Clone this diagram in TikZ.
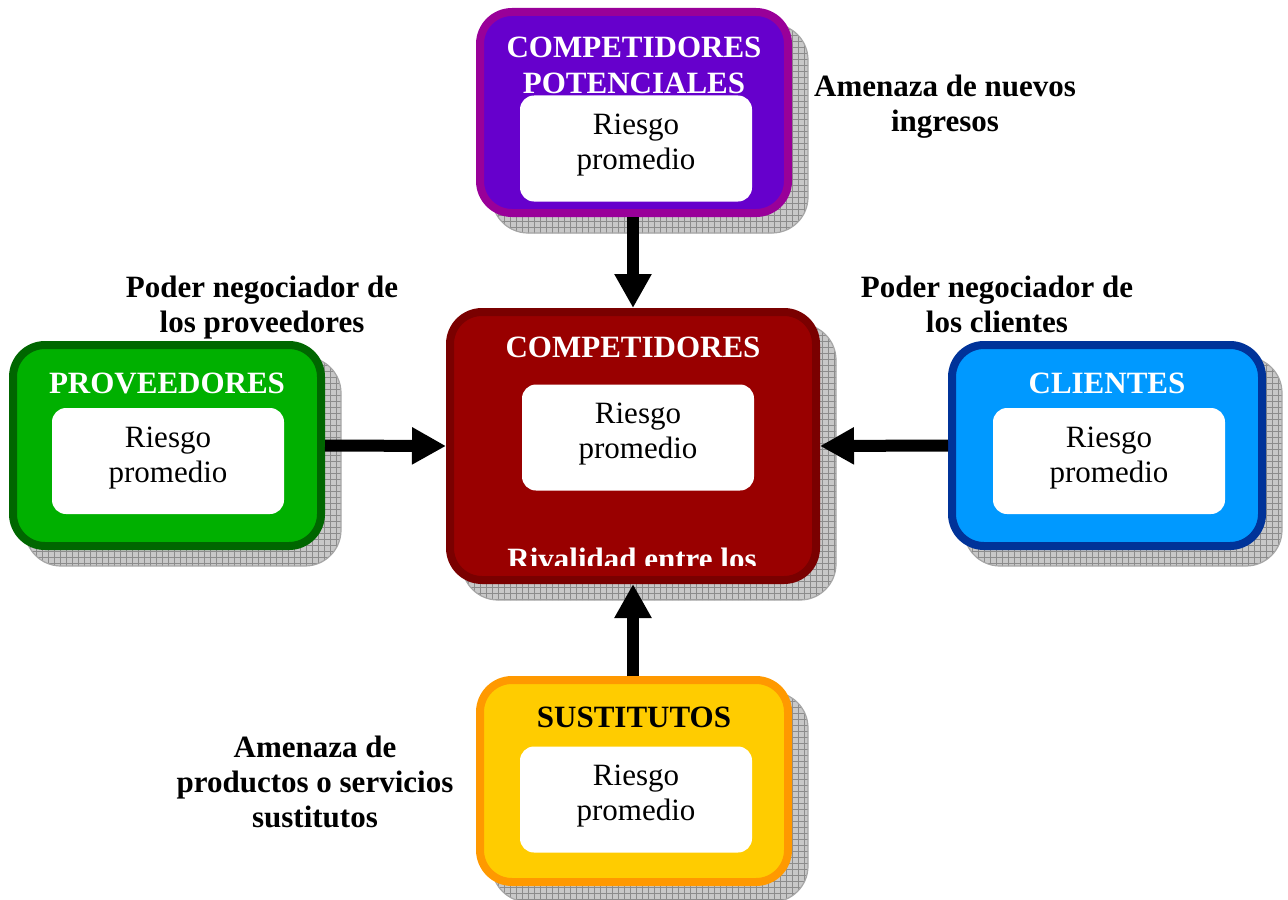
\documentclass[tikz,border=0pt]{standalone}
\usepackage{fontspec}
\setmainfont{Liberation Serif}
\usetikzlibrary{arrows.meta, backgrounds, patterns}
\definecolor{potfill}{HTML}{6600CC}
\definecolor{potdraw}{HTML}{990099}
\definecolor{cmpfill}{HTML}{990000}
\definecolor{cmpdraw}{HTML}{7A0000}
\definecolor{prvfill}{HTML}{00B000}
\definecolor{prvdraw}{HTML}{006600}
\definecolor{clifill}{HTML}{0099FF}
\definecolor{clidraw}{HTML}{003399}
\definecolor{susfill}{HTML}{FFCC00}
\definecolor{susdraw}{HTML}{FF9900}
\definecolor{shdfill}{HTML}{C8C8C8}
\definecolor{shdgrid}{HTML}{8C8C8C}
\newcommand{\boxfont}{\fontsize{15.5}{17.5}\selectfont}
\tikzset{
  force/.style={rectangle, rounded corners=16pt, line width=4pt, minimum width=154pt, minimum height=100.5pt},
  risk/.style={rectangle, rounded corners=7pt, fill=white, minimum width=116pt, minimum height=53pt, align=center, font=\boxfont, text depth=6.5pt, inner sep=0pt},
  ttl/.style={font=\boxfont\bfseries, text=white, align=center, anchor=base, inner sep=0pt},
  lab/.style={font=\boxfont\bfseries, align=center, anchor=base, inner sep=0pt},
  arr/.style={-{Triangle[length=17pt, width=17.5pt]}, line width=6pt, draw=black},
  shadowbox/.style={preaction={fill=shdfill}, pattern=grid, pattern color=shdgrid, draw=gray!70, line width=0.6pt, rounded corners=18pt},
}

\begin{document}
\begin{tikzpicture}[x=0.5pt, y=-0.5pt]
  \useasboundingbox (0,0) rectangle (1288,899);
  % the five forces
  \node[force, draw=potdraw, fill=potfill] (pot) at (634,112.5) {};
  \node[ttl, text=white] (potttl) at (634,93) {COMPETIDORES\\POTENCIALES};
  \node[risk] (potrsk) at (636,148.5) {Riesgo\\promedio};

  \node[force, draw=cmpdraw, fill=cmpfill, minimum width=183pt, minimum height=134pt] (cmp) at (633,446) {};
  \node[ttl] (cmpttl) at (633,357) {COMPETIDORES};
  \node[risk] (cmprsk) at (638,437.5) {Riesgo\\promedio};
  \begin{scope}
    \clip (446,300) rectangle (820,565);
    \node[ttl] (cmpriv) at (632,569) {Rivalidad entre los};
  \end{scope}

  \node[force, draw=prvdraw, fill=prvfill] (prv) at (167,445.5) {};
  \node[ttl] (prvttl) at (167,393) {PROVEEDORES};
  \node[risk] (prvrsk) at (168,461) {Riesgo\\promedio};

  \node[force, draw=clidraw, fill=clifill, minimum width=155pt] (cli) at (1107,445.5) {};
  \node[ttl] (clittl) at (1107,393) {CLIENTES};
  \node[risk] (clirsk) at (1109,461) {Riesgo\\promedio};

  \node[force, draw=susdraw, fill=susfill, minimum height=101pt] (sus) at (634,781) {};
  \node[ttl, text=black] (susttl) at (634,727) {SUSTITUTOS};
  \node[risk] (susrsk) at (636,799.5) {Riesgo\\promedio};

  % grid shadows
  \begin{scope}[on background layer]
    \foreach \f in {pot, cmp, prv, cli, sus}
      \path[shadowbox] ([shift={(16,16)}]\f.north west) rectangle ([shift={(16,16)}]\f.south east);
  \end{scope}

  % labels of the forces
  \node[lab] (newlab) at (945,132) {Amenaza de nuevos\\ingresos};
  \node[lab] (prvlab) at (262,332) {Poder negociador de\\los proveedores};
  \node[lab] (clilab) at (997,332) {Poder negociador de\\los clientes};
  \node[lab] (suslab) at (315,827) {Amenaza de\\productos o servicios\\sustitutos};

  % arrows into the rivalry
  \draw[arr] (cmp.north |- pot.south) -- (cmp.north);
  \draw[arr] (prv.east) -- (cmp.west);
  \draw[arr] (cli.west) -- (cmp.east);
  \draw[arr] (cmp.south |- sus.north) -- (cmp.south);
\end{tikzpicture}
\end{document}
